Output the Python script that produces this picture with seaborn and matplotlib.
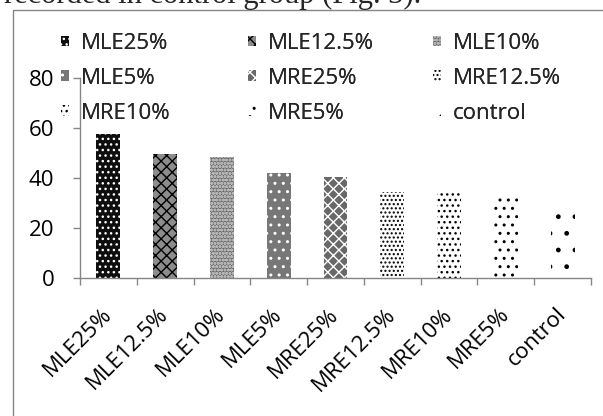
import matplotlib
matplotlib.use("Agg")
import matplotlib.pyplot as plt
import seaborn as sns
import pandas as pd
from matplotlib.patches import Rectangle, Patch

# Mean values per treatment group
groups = ["MLE25%", "MLE12.5%", "MLE10%", "MLE5%", "MRE25%",
          "MRE12.5%", "MRE10%", "MRE5%", "control"]
values = [57.6, 49.6, 48.3, 42.1, 40.4, 34.4, 34.0, 32.5, 30.0]
y_ticks = [0, 20, 40, 60, 80]
caption = "recorded in control group (Fig. 3)."

# Monochrome pattern fills (face colour, pattern colour, hatch)
face_colors = ["#0e0e0e", "#8c8c8c", "#6c6c6c", "#777777", "#686868",
               "white", "white", "white", "white"]
hatch_colors = ["white", "black", "#b4b4b4", "white", "white",
                "black", "black", "black", "black"]
hatches = ["...", "xxx", "ooooo", "..", "xxx", "....", "...", "..", "."]

sns.set_theme(style="white")
plt.rcParams["font.family"] = ["Open Sans", "DejaVu Sans"]
plt.rcParams["hatch.linewidth"] = 1.0

W, H = 603, 416
GRAY = "#868686"
FS = 16

fig = plt.figure(figsize=(W / 100, H / 100), dpi=100)
ax = fig.add_axes([80 / W, 1 - 278 / H, (591 - 80) / W, 200 / H])

df = pd.DataFrame({"group": groups, "value": values})
sns.barplot(data=df, x="group", y="value", hue="group", order=groups,
            hue_order=groups, dodge=False, width=0.42, palette=face_colors,
            saturation=1, legend=False, ax=ax)

for cont, fc, hc, h in zip(ax.containers, face_colors, hatch_colors, hatches):
    for bar in cont:
        bar.set_facecolor(fc)
        bar.set_edgecolor(hc)
        bar.set_linewidth(0)
        bar.set_hatch(h)

ax.set_xlim(-0.5, len(groups) - 0.5)
ax.set_ylim(y_ticks[0], y_ticks[-1])
ax.set_yticks(y_ticks)
ax.set_xlabel("")
ax.set_ylabel("")
sns.despine(ax=ax)
for side in ("left", "bottom"):
    ax.spines[side].set_color(GRAY)
    ax.spines[side].set_linewidth(1.0)

ax.tick_params(axis="y", left=True, length=5, width=1, color=GRAY,
               pad=13.5, labelsize=FS, labelcolor="black")
ax.set_xticks(range(len(groups)))
ax.set_xticks([i - 0.5 for i in range(len(groups) + 1)], minor=True)
ax.tick_params(axis="x", which="major", bottom=False, length=0, pad=24,
               labelsize=FS, labelcolor="black")
ax.tick_params(axis="x", which="minor", bottom=True, length=5, width=1,
               color=GRAY)
for lab in ax.get_xticklabels():
    lab.set_rotation(45)
    lab.set_ha("right")
    lab.set_va("center")
    lab.set_rotation_mode("anchor")

# Legend laid out in three fixed columns, filled row by row
col_x = [61, 248, 433]
for c in range(3):
    idx = [c, c + 3, c + 6]
    handles = [Patch(facecolor=face_colors[i], edgecolor=hatch_colors[i],
                     hatch=hatches[i], linewidth=0) for i in idx]
    leg = fig.legend(handles=handles, labels=[groups[i] for i in idx],
                     loc="upper left", bbox_to_anchor=(col_x[c] / W, 1 - 33 / H),
                     frameon=False, fontsize=FS, borderpad=0, borderaxespad=0,
                     handlelength=0.36, handleheight=0.36, handletextpad=0.55,
                     labelspacing=0.62)
    fig.add_artist(leg)

# Chart frame
fig.add_artist(Rectangle((13 / W, -0.1), 1.0, 1.1 - 10 / H,
                         transform=fig.transFigure, fill=False,
                         edgecolor=GRAY, linewidth=1.0))

# Running text line above the chart
fig.text(421 / W, 1 - 3.5 / H, caption, ha="right", va="baseline",
         fontsize=22, family=["Liberation Serif", "DejaVu Serif"])

fig.savefig("out.png", dpi=100)
